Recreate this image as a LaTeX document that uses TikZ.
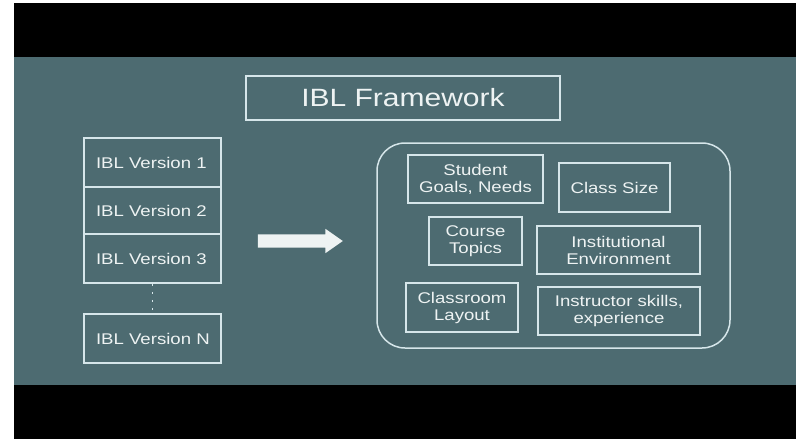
\documentclass[tikz,border=0pt]{standalone}
\usepackage{fontspec}
\setmainfont{Liberation Sans}[FakeStretch=1.2]
\usetikzlibrary{shapes.arrows, positioning}
\definecolor{slate}{HTML}{4D6B71}
\definecolor{chalk}{HTML}{D6E6EA}
\definecolor{ink}{HTML}{EEF3F3}
\tikzset{box/.style={draw=chalk,line width=1.5pt,text=ink,inner sep=0pt,font=\fontsize{15.5}{17}\selectfont},
         factor/.style={box,align=center},
         version/.style={box,text width=125pt,inner xsep=6pt,align=left,minimum height=49pt},
        }

\begin{document}
\begin{tikzpicture}[x=1pt,y=-1pt]
        \useasboundingbox(0,0)rectangle(796,439);
        \fill[black](14,3)rectangle(796,439);
        \fill[slate](14,57)rectangle(796,385);

        \node[box,minimum width=314pt,minimum height=44pt,font=\fontsize{25}{30}\selectfont](title)at(403,98){IBL Framework};

        \node[version](v1)at(152.5,162.5){\hspace*{6pt}IBL Version 1};
        \node[version,minimum height=47pt](v2)at(152.5,210.5){\hspace*{6pt}IBL Version 2};
        \node[version](v3)at(152.5,258.5){\hspace*{6pt}IBL Version 3};
        \node[version](vN)at(152.5,338.5){\hspace*{6pt}IBL Version N};

        \node[single arrow,fill=ink,inner sep=0pt,inner ysep=6.5pt,minimum height=85pt,minimum width=24pt,
              single arrow head extend=5.5pt,single arrow tip angle=70](go)at(295.5,241){};

        \node[box,rounded corners=28pt,minimum width=353pt,minimum height=205pt](factors)at(553.5,245.5){};
        \node[factor,minimum width=135pt,minimum height=48pt](goals)at(475.5,179){Student\\Goals, Needs};
        \node[factor,minimum width=111pt,minimum height=49pt](size)at(614.5,187.5){Class Size};
        \node[factor,minimum width=93pt,minimum height=48pt](topics)at(475.5,241){Course\\Topics};
        \node[factor,minimum width=163pt,minimum height=48pt](inst)at(618.5,250){Institutional\\Environment};
        \node[factor,minimum width=112pt,minimum height=49pt](layout)at(462,307.5){Classroom\\Layout};
        \node[factor,minimum width=162pt,minimum height=48pt](skills)at(619,311){Instructor skills,\\experience};

        \draw[chalk,line width=1.5pt,dash pattern=on 2pt off 6pt](v3.south)--(vN.north);
    \end{tikzpicture}
\end{document}
